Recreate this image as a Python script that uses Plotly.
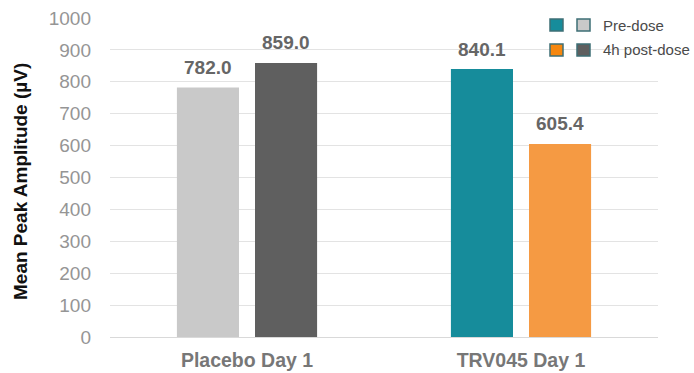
import plotly.graph_objects as go

# Data
groups = ["Placebo Day 1", "TRV045 Day 1"]
pre_dose = [782.0, 840.1]
post_dose = [859.0, 605.4]
y_ticks = [0, 100, 200, 300, 400, 500, 600, 700, 800, 900, 1000]
y_title = "Mean Peak Amplitude (µV)"

# Per-group colours (placebo in greys, TRV045 in teal/orange)
pre_colors = ["#c9c9c9", "#168c9b"]
post_colors = ["#5f5f5f", "#f59a43"]
legend_rows = [
    ("Pre-dose", "#168c9b", "#c9c9c9"),
    ("4h post-dose", "#f5870f", "#5f5f5f"),
]

FONT = "Liberation Sans, Arial, sans-serif"
L, R, T, B = 110, 36, 18, 36
W, H = 694, 373
PW, PH = W - L - R, H - T - B

fig = go.Figure()
fig.add_trace(go.Bar(
    x=groups, y=pre_dose, name="Pre-dose",
    marker=dict(color=pre_colors, line=dict(width=0)),
))
fig.add_trace(go.Bar(
    x=groups, y=post_dose, name="4h post-dose",
    marker=dict(color=post_colors, line=dict(width=0)),
))

annotations = []
# Value labels above each bar
for vals, shift in ((pre_dose, -39), (post_dose, 39)):
    for g, v in zip(groups, vals):
        annotations.append(dict(
            x=g, y=v, xref="x", yref="y", xshift=shift, yshift=20,
            text=f"<b>{v:.1f}</b>", showarrow=False,
            xanchor="center", yanchor="middle",
            font=dict(family=FONT, size=19, color="#666666"),
        ))

# Vertical axis title
annotations.append(dict(
    xref="paper", yref="paper",
    x=(20 - L) / PW, y=(H - B - 182) / PH,
    text=f"<b>{y_title}</b>", textangle=-90, showarrow=False,
    xanchor="center", yanchor="middle",
    font=dict(family=FONT, size=19, color="#111111"),
))

# Hand-drawn legend: two swatches per row
shapes = []
for i, (label, c1, c2) in enumerate(legend_rows):
    yc = 25 + i * 25  # pixel centre from top
    for j, col in enumerate((c1, c2)):
        x0 = 550 + j * 27
        shapes.append(dict(
            type="rect", xref="paper", yref="paper",
            x0=(x0 - L) / PW, x1=(x0 + 13 - L) / PW,
            y0=(H - B - (yc + 6)) / PH, y1=(H - B - (yc - 6)) / PH,
            fillcolor=col, line=dict(color="#3e6f76", width=1.5),
        ))
    annotations.append(dict(
        xref="paper", yref="paper",
        x=(601 - L) / PW, y=(H - B - yc) / PH,
        text=label, showarrow=False, xanchor="left", yanchor="middle",
        font=dict(family=FONT, size=15, color="#4a4a4a"),
    ))

fig.update_layout(
    width=W, height=H,
    margin=dict(l=L, r=R, t=T, b=B),
    paper_bgcolor="white", plot_bgcolor="white",
    barmode="group", bargap=0.43, bargroupgap=0.205,
    showlegend=False,
    shapes=shapes, annotations=annotations,
    font=dict(family=FONT),
)
fig.update_yaxes(
    range=[0, 1000], tickvals=y_ticks, automargin=False,
    showgrid=True, gridcolor="#e3e3e3", gridwidth=1,
    zeroline=True, zerolinecolor="#d9d9d9", zerolinewidth=1,
    showline=False,
    tickfont=dict(family=FONT, size=19, color="#959595"),
    ticklabelstandoff=18,
)
fig.update_xaxes(
    showline=False, showgrid=False, automargin=False,
    tickfont=dict(family=FONT, size=19.5, color="#777777"),
    tickvals=groups, ticktext=[f"<b>{g}</b>" for g in groups],
    ticklabelstandoff=9,
)

fig.write_html("out.html")
